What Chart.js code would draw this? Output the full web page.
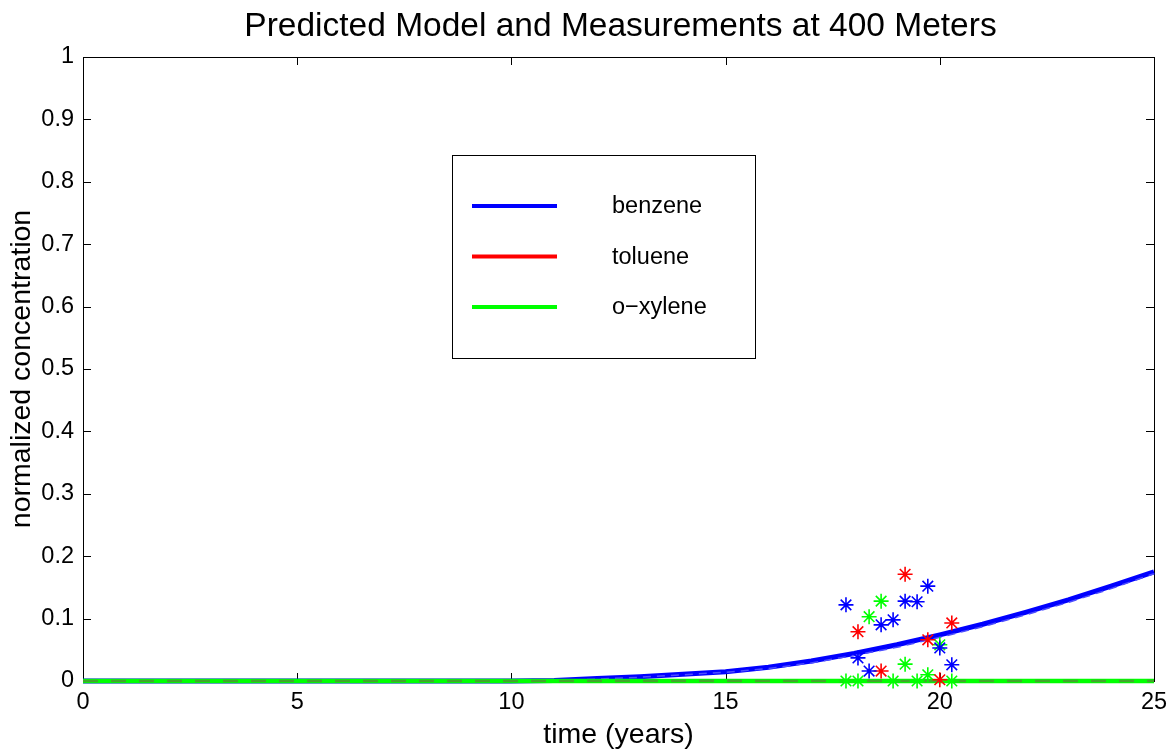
<!DOCTYPE html>
<html>
<head>
<meta charset="utf-8">
<script src="https://cdn.jsdelivr.net/npm/chart.js@4"></script>
<style>
  html, body { margin: 0; padding: 0; background: #fff; }
  #wrap { width: 1176px; height: 752px; }
</style>
</head>
<body>
<div id="wrap"><canvas id="chart" width="1176" height="752"></canvas></div>
<script>
// model curves (time in years)
const modelTime = [0, 5, 10, 11, 12, 13, 14, 15, 16, 17, 18, 19, 20, 21, 22, 23, 24, 25];
const benzeneModel = [0, 0, 0, 0.001, 0.004, 0.007, 0.011, 0.015, 0.022, 0.032, 0.044, 0.058, 0.074, 0.091, 0.110, 0.130, 0.152, 0.175];
const benzeneModelAlt = [0, 0, 0, 0, 0.003, 0.006, 0.010, 0.014, 0.020, 0.029, 0.041, 0.054, 0.070, 0.087, 0.106, 0.126, 0.148, 0.172];
const tolueneModel = [0, 0, 0, 0, 0, 0, 0, 0, 0, 0, 0, 0, 0, 0, 0, 0, 0, 0];
const xyleneModel = [0, 0, 0, 0, 0, 0, 0, 0, 0, 0, 0, 0, 0, 0, 0, 0, 0, 0];

// measurements
const sampleTime = [17.81, 18.09, 18.35, 18.63, 18.91, 19.19, 19.47, 19.72, 20.00, 20.28];
const benzeneMeas = [0.122, 0.037, 0.016, 0.090, 0.098, 0.128, 0.127, 0.152, 0.053, 0.026];
const tolueneMeas = [null, 0.079, null, 0.016, null, 0.171, null, 0.066, 0.002, 0.093];
const xyleneMeas = [0, 0, 0.103, 0.128, 0, 0.027, 0, 0.010, 0.058, 0];

const xTicks = [0, 5, 10, 15, 20, 25];
const yTickLabels = ['0', '0.1', '0.2', '0.3', '0.4', '0.5', '0.6', '0.7', '0.8', '0.9', '1'];
const legendNames = ['benzene', 'toluene', 'o\u2212xylene'];
const legendColors = ['#0000ff', '#ff0000', '#00ff00'];

const FONT = "'Liberation Sans', Arial, Helvetica, sans-serif";

function pts(xs, ys) {
  const out = [];
  xs.forEach((x, i) => { if (ys[i] !== null) out.push({ x: x, y: ys[i] }); });
  return out;
}

// box, inward ticks, title and legend
const matlabLook = {
  id: 'matlabLook',
  beforeDatasetsDraw(chart) {
    const ctx = chart.ctx;
    const a = chart.chartArea;
    const xs = chart.scales.x, ys = chart.scales.y;
    ctx.save();
    ctx.strokeStyle = '#000';
    ctx.lineWidth = 1;
    ctx.strokeRect(a.left + 0.5, a.top + 0.5, a.right - a.left, a.bottom - a.top);
    const tl = 8;
    ctx.beginPath();
    xTicks.forEach(v => {
      const px = Math.round(xs.getPixelForValue(v)) + 0.5;
      ctx.moveTo(px, a.bottom); ctx.lineTo(px, a.bottom - tl);
      ctx.moveTo(px, a.top); ctx.lineTo(px, a.top + tl);
    });
    yTickLabels.forEach((s, i) => {
      const py = Math.round(ys.getPixelForValue(i / 10)) + 0.5;
      ctx.moveTo(a.left, py); ctx.lineTo(a.left + tl, py);
      ctx.moveTo(a.right, py); ctx.lineTo(a.right - tl, py);
    });
    ctx.stroke();
    ctx.restore();
  },
  afterDraw(chart) {
    const ctx = chart.ctx;
    const a = chart.chartArea;
    ctx.save();
    // title
    ctx.fillStyle = '#000';
    ctx.font = '33.5px ' + FONT;
    ctx.textAlign = 'center';
    ctx.textBaseline = 'middle';
    ctx.fillText('Predicted Model and Measurements at 400 Meters', (a.left + a.right) / 2 + 2, 27);

    // legend
    const bx = 452, by = 155, bw = 303, bh = 203;
    ctx.fillStyle = '#fff';
    ctx.fillRect(bx, by, bw, bh);
    ctx.strokeStyle = '#000';
    ctx.lineWidth = 1;
    ctx.strokeRect(bx + 0.5, by + 0.5, bw, bh);
    ctx.font = '23.5px ' + FONT;
    ctx.textAlign = 'left';
    legendNames.forEach((name, i) => {
      const y = 206 + i * 50.5;
      ctx.strokeStyle = legendColors[i];
      ctx.lineWidth = 4;
      ctx.beginPath();
      ctx.moveTo(472, y); ctx.lineTo(557, y);
      ctx.stroke();
      ctx.fillStyle = '#000';
      ctx.fillText(name, 612, y + 1);
    });
    ctx.restore();
  }
};

const starStyle = (c) => ({
  type: 'scatter', showLine: false, pointStyle: 'star', pointRadius: 7.5,
  pointBorderWidth: 1.6, borderColor: c, backgroundColor: c, order: 0, clip: false
});

const lineStyle = (c, w, dash, ord) => ({
  showLine: true, pointRadius: 0, borderColor: c, borderWidth: w,
  borderDash: dash, order: ord, clip: false
});

new Chart(document.getElementById('chart'), {
  type: 'scatter',
  data: {
    datasets: [
      Object.assign({ label: 'benzene data', data: pts(sampleTime, benzeneMeas) }, starStyle('#0000ff')),
      Object.assign({ label: 'toluene data', data: pts(sampleTime, tolueneMeas) }, starStyle('#ff0000')),
      Object.assign({ label: 'xylene data', data: pts(sampleTime, xyleneMeas) }, starStyle('#00ff00')),
      Object.assign({ label: 'xylene alt', data: pts(modelTime, xyleneModel) }, lineStyle('#3fa82a', 2.5, [15, 13], 1)),
      Object.assign({ label: 'o-xylene', data: pts(modelTime, xyleneModel) }, lineStyle('#00ff00', 4.5, [], 2)),
      Object.assign({ label: 'benzene alt', data: pts(modelTime, benzeneModelAlt) }, lineStyle('#4d4dff', 1.5, [8, 6], 3)),
      Object.assign({ label: 'benzene', data: pts(modelTime, benzeneModel) }, lineStyle('#0000ff', 5, [], 4)),
      Object.assign({ label: 'toluene', data: pts(modelTime, tolueneModel) }, lineStyle('#ff0000', 4, [], 5))
    ]
  },
  options: {
    responsive: false,
    animation: false,
    layout: { padding: { top: 57, right: 22, left: 0, bottom: 0 } },
    plugins: { legend: { display: false }, title: { display: false }, tooltip: { enabled: false } },
    scales: {
      x: {
        type: 'linear', min: 0, max: 25,
        afterFit: s => { s.height = 71; },
        afterBuildTicks: s => { s.ticks = xTicks.map(v => ({ value: v })); },
        grid: { display: false, drawTicks: false }, border: { display: false },
        ticks: { color: '#000', font: { family: FONT, size: 23.5 }, padding: 7, maxRotation: 0 },
        title: { display: true, text: 'time (years)', color: '#000', font: { family: FONT, size: 28.5 }, padding: { top: 0, bottom: 0 } }
      },
      y: {
        type: 'linear', min: 0, max: 1,
        afterFit: s => { s.width = 83; },
        afterBuildTicks: s => { s.ticks = yTickLabels.map((t, i) => ({ value: i / 10 })); },
        grid: { display: false, drawTicks: false }, border: { display: false },
        ticks: { color: '#000', font: { family: FONT, size: 23.5 }, padding: 9,
          callback: (v, i) => yTickLabels[i] },
        title: { display: true, text: 'normalized concentration', color: '#000', font: { family: FONT, size: 28.5 }, padding: { top: 5, bottom: 0 } }
      }
    }
  },
  plugins: [matlabLook]
});
</script>
</body>
</html>
